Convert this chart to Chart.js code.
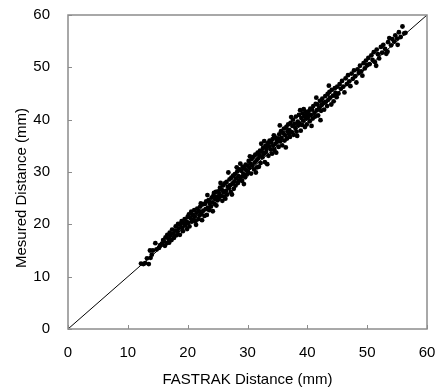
<!DOCTYPE html>
<html><head><meta charset="utf-8">
<script src="https://cdn.jsdelivr.net/npm/chart.js@4/dist/chart.umd.min.js"></script>
<style>html,body{margin:0;padding:0;background:#fff}#wrap{width:437px;height:389px}</style>
</head><body><div id="wrap"><canvas id="c" width="437" height="389"></canvas></div>
<script>
const xTitle = "FASTRAK Distance (mm)";
const yTitle = "Mesured Distance (mm)";
const tickValues = [0,10,20,30,40,50,60];
const lineX = [0, 60];
const lineY = [0, 60];
const fastrakX = [
12.2,12.6,12.9,13.2,13.5,13.8,13.7,14.2,14.0,14.6,14.8,15.2,15.4,15.7,15.9,
16.0,16.2,16.3,16.5,16.6,16.8,16.9,17.0,17.1,17.3,17.4,17.6,17.7,17.9,18.0,18.1,18.3,18.4,18.5,18.7,18.8,19.0,19.1,19.2,19.4,19.5,19.6,19.8,19.9,20.0,
20.1,20.2,20.3,20.5,20.6,20.7,20.9,21.0,21.1,21.2,21.4,21.5,21.6,21.8,21.9,22.0,22.1,22.3,22.4,22.5,22.6,22.8,22.9,23.0,23.1,23.2,23.4,23.5,23.6,23.7,23.9,24.0,24.1,24.2,24.3,24.5,24.6,24.7,24.8,24.9,25.0,21.3,22.2,23.3,24.4,
25.1,25.2,25.3,25.4,25.6,25.7,25.8,25.9,26.0,26.1,26.2,26.4,26.5,26.6,26.7,26.9,27.0,27.1,27.2,27.3,27.5,27.6,27.7,27.8,27.9,28.0,28.1,28.3,28.4,28.5,28.6,28.7,28.9,29.0,29.1,29.2,29.3,29.5,29.6,29.7,29.8,29.9,30.0,25.5,26.3,27.4,28.2,29.4,26.8,28.8,
30.1,30.2,30.3,30.5,30.6,30.7,30.8,31.0,31.1,31.2,31.3,31.5,31.6,31.7,31.8,32.0,32.1,32.2,32.4,32.5,32.6,32.7,32.9,33.0,33.1,33.2,33.4,33.5,33.6,33.7,33.9,34.0,34.1,34.2,34.3,34.5,34.6,34.7,34.8,34.9,35.0,30.4,31.4,32.3,33.3,34.4,32.8,31.9,
35.1,35.2,35.3,35.5,35.6,35.7,35.8,36.0,36.1,36.2,36.3,36.5,36.6,36.7,36.8,37.0,37.1,37.2,37.4,37.5,37.6,37.7,37.9,38.0,38.1,38.2,38.4,38.5,38.6,38.7,38.9,39.0,39.1,39.2,39.3,39.5,39.6,39.7,39.8,39.9,40.0,35.4,36.4,37.3,38.3,39.4,36.9,38.8,
40.1,40.2,40.4,40.5,40.6,40.8,40.9,41.0,41.2,41.3,41.4,41.6,41.7,41.8,42.0,42.1,42.3,42.4,42.5,42.7,42.8,43.0,43.1,43.3,43.4,43.5,43.7,43.8,44.0,44.1,44.3,44.4,44.6,44.7,44.9,45.0,40.7,41.5,42.2,43.6,
45.2,45.4,45.6,45.8,46.0,46.2,46.4,46.6,46.8,47.0,47.2,47.4,47.6,47.8,48.0,48.2,48.4,48.6,48.8,49.0,49.2,49.4,49.6,49.8,50.0,
50.2,50.4,50.7,50.9,51.1,51.3,51.6,51.8,52.0,52.3,52.5,52.7,53.0,53.2,53.5,53.7,54.0,54.2,54.5,54.7,55.0,55.3,55.6,55.9,56.2,56.4,51.5,53.4,55.1
];
const measuredY = [
12.5,12.4,12.6,13.5,12.4,13.6,15.0,15.0,14.2,16.4,15.2,15.5,16.0,16.3,17.0,
16.8,15.9,17.5,16.4,18.0,17.2,16.5,18.4,17.8,17.0,19.0,18.2,17.4,18.8,19.6,17.9,18.6,20.1,19.2,18.0,19.9,20.6,19.3,18.7,20.2,21.0,19.8,20.5,19.1,21.4,
20.3,21.9,19.6,21.2,22.4,20.5,21.8,20.9,22.7,21.5,19.9,22.2,23.0,21.0,22.5,21.7,23.4,22.0,20.8,23.8,22.6,21.6,23.9,22.9,24.4,21.8,23.2,24.6,22.7,24.0,23.4,25.1,24.2,22.5,25.5,23.9,24.8,26.2,23.6,25.3,24.6,20.6,24.0,25.6,26.0,
26.3,24.9,25.8,27.0,25.4,26.6,24.5,27.4,26.1,25.3,27.8,26.4,28.1,25.7,27.2,26.9,28.6,27.5,26.2,28.9,27.8,29.3,26.8,28.2,29.6,27.4,28.8,30.1,27.9,29.2,28.4,30.5,29.0,30.2,28.3,31.0,29.6,30.7,29.0,31.4,30.3,29.5,31.2,27.9,24.9,25.7,30.9,27.7,29.9,31.6,
30.0,32.1,30.8,31.6,29.7,32.5,31.2,32.9,30.5,31.8,33.3,32.2,30.9,33.7,32.6,33.2,34.1,31.7,33.9,32.8,34.6,33.4,31.9,35.0,33.8,34.4,35.5,33.1,34.9,36.0,34.3,35.6,33.5,36.3,35.0,34.2,36.6,35.4,33.7,36.1,35.8,33.0,29.9,35.4,31.5,37.0,35.9,31.0,
36.4,34.8,37.2,35.9,37.8,36.5,35.1,37.4,38.3,36.0,37.0,38.6,36.4,37.8,39.1,38.0,36.7,39.4,37.6,38.8,40.0,37.1,39.2,38.4,40.6,37.7,39.6,38.9,40.9,39.3,37.9,40.3,39.0,41.2,39.8,40.7,38.6,41.5,40.2,39.1,41.0,38.9,34.7,40.5,36.9,42.0,37.3,41.8,
40.4,41.6,39.7,42.1,40.9,41.9,40.2,42.6,41.3,40.6,43.0,41.8,42.9,40.8,42.3,43.6,41.7,42.8,44.0,43.2,41.9,44.5,43.4,42.6,44.9,43.8,45.3,44.2,42.9,45.7,44.6,43.5,46.0,45.1,44.3,46.3,38.8,44.2,39.9,46.5,
45.0,46.8,45.9,47.4,46.3,45.2,47.9,46.8,48.5,47.3,46.4,48.8,47.8,49.4,48.3,47.1,49.6,48.9,50.3,49.2,48.4,50.8,49.8,51.3,50.4,
51.8,50.6,52.3,51.4,52.9,51.0,53.4,52.5,51.7,53.9,52.8,54.3,53.5,52.6,54.8,55.6,54.2,55.4,54.9,56.1,55.5,56.7,55.8,57.8,56.5,56.6,50.3,53.0,54.3
];

const scatterData = fastrakX.map((x, i) => ({x: x, y: measuredY[i]}));
const lineData = lineX.map((x, i) => ({x: x, y: lineY[i]}));

const FONT = "'Liberation Sans', Arial, sans-serif";
const frameColor = '#8c8c8c';

function zeroPad(s) {
  s.paddingTop = 0; s.paddingBottom = 0; s.paddingLeft = 0; s.paddingRight = 0;
}

const framePlugin = {
  id: 'frame',
  afterDraw(chart) {
    const {ctx, chartArea: a, scales} = chart;
    ctx.save();
    ctx.strokeStyle = frameColor;
    ctx.lineWidth = 1.5;
    ctx.strokeRect(a.left, a.top, a.right - a.left, a.bottom - a.top);
    ctx.lineWidth = 1;
    ctx.beginPath();
    tickValues.forEach(v => {
      const px = Math.round(scales.x.getPixelForValue(v)) + 0.5;
      ctx.moveTo(px, a.bottom); ctx.lineTo(px, a.bottom - 4);
      const py = Math.round(scales.y.getPixelForValue(v)) + 0.5;
      ctx.moveTo(a.left, py); ctx.lineTo(a.left + 4, py);
    });
    ctx.stroke();
    // y-axis title, placed as in the reference
    ctx.fillStyle = '#000';
    ctx.font = "15px " + FONT;
    ctx.textAlign = 'center';
    ctx.textBaseline = 'middle';
    ctx.translate(22, (a.top + a.bottom) / 2 + 16);
    ctx.rotate(-Math.PI / 2);
    ctx.fillText(yTitle, 0, 0);
    ctx.restore();
  }
};

new Chart(document.getElementById('c'), {
  type: 'scatter',
  data: {
    datasets: [
      { type: 'scatter', data: scatterData, pointRadius: 2.4, pointBorderWidth: 0,
        backgroundColor: '#000', borderColor: '#000', order: 1 },
      { type: 'line', data: lineData, borderColor: '#000', borderWidth: 1,
        pointRadius: 0, fill: false, order: 2 }
    ]
  },
  options: {
    responsive: false,
    animation: false,
    events: [],
    layout: { padding: { left: 0, right: 10, top: 15, bottom: 0 } },
    plugins: { legend: { display: false }, tooltip: { enabled: false } },
    scales: {
      x: {
        type: 'linear', min: 0, max: 60,
        afterBuildTicks: s => { s.ticks = tickValues.map(v => ({value: v})); },
        afterFit: s => { s.height = 60; zeroPad(s); },
        grid: { display: false, drawTicks: false },
        border: { display: false },
        ticks: { color: '#000', font: { family: FONT, size: 15 }, padding: 15, maxRotation: 0 },
        title: { display: true, text: xTitle, color: '#000', font: { family: FONT, size: 15 }, padding: { top: 5, bottom: 0 } }
      },
      y: {
        type: 'linear', min: 0, max: 60,
        afterBuildTicks: s => { s.ticks = tickValues.map(v => ({value: v})); },
        afterFit: s => { s.width = 68; zeroPad(s); },
        grid: { display: false, drawTicks: false },
        border: { display: false },
        ticks: { color: '#000', font: { family: FONT, size: 15 }, padding: 18 },
        title: { display: false }
      }
    }
  },
  plugins: [framePlugin]
});
</script></body></html>
